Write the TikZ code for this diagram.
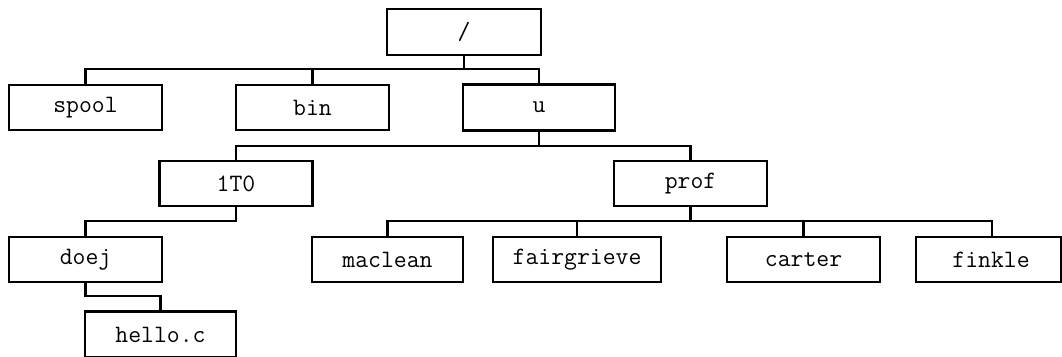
\documentclass[tikz,border=0pt]{standalone}
\usetikzlibrary{calc}
\begin{document}
\begin{tikzpicture}[x=1pt,y=-1pt,
  dirbox/.style={draw=black,line width=2.3pt,fill=white,minimum width=153pt,minimum height=45pt,inner sep=0pt,
    font=\fontsize{25}{30}\selectfont\ttfamily},
  conn/.style={draw=black,line width=2.3pt,line cap=rect}]
\useasboundingbox (0,0) rectangle (1062,356);
\fill[white] (0,0) rectangle (1062,356);
\clip (0,0) rectangle (1062,356);
\coordinate (l1) at (0,69);
\coordinate (l2) at (0,146);
\coordinate (l3) at (0,221);
\coordinate (l4) at (0,296);
\coordinate (fdrop) at (992,237);
\node[dirbox,minimum width=154pt,minimum height=46pt] (root) at (464,32) {/};
\node[dirbox] (spool) at (85.5,107.5) {spool};
\node[dirbox] (bin) at (312.5,107.5) {bin};
\node[dirbox,minimum width=152pt,minimum height=46pt] (u) at (539,107.5) {u};
\node[dirbox] (t10) at (236,183.5) {1T0};
\node[dirbox] (prof) at (690.5,183.5) {prof};
\node[dirbox] (doej) at (85.5,259.5) {doej};
\node[dirbox,minimum width=151pt,minimum height=46pt] (hello) at (160.5,334.5) {hello.c};
\node[dirbox,minimum width=151pt] (maclean) at (387.5,259.5) {maclean};
\node[dirbox,minimum width=168pt] (fair) at (577,259.5) {fairgrieve};
\node[dirbox] (carter) at (803.5,259.5) {carter};
\node[dirbox,minimum width=145pt] (finkle) at (988.5,259.5) {\hspace*{5pt}finkle};
\draw[conn] (root.south) -- (root.south |- l1);
\draw[conn] (spool.north) |- (u.north |- l1) -- (u.north);
\draw[conn] (bin.north) -- (bin.north |- l1);
\draw[conn] (u.south) -- (u.south |- l2);
\draw[conn] (t10.north) |- (prof.north |- l2) -- (prof.north);
\draw[conn] (t10.south) -- (t10.south |- l3) -| (doej.north);
\draw[conn] (doej.south) -- (doej.south |- l4) -| (hello.north);
\draw[conn] (prof.south) -- (prof.south |- l3);
\draw[conn] (maclean.north) |- (fdrop |- l3) -- (fdrop);
\draw[conn] (fair.north) -- (fair.north |- l3);
\draw[conn] (carter.north) -- (carter.north |- l3);
\end{tikzpicture}
\end{document}
